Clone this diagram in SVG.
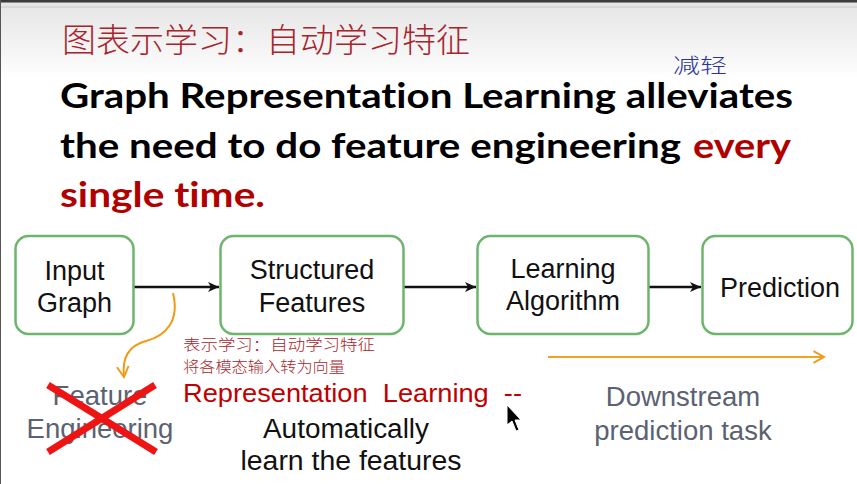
<svg xmlns="http://www.w3.org/2000/svg" width="857" height="484" viewBox="0 0 857 484">
<defs>
<linearGradient id="bg" x1="0" y1="0" x2="0" y2="1">
<stop offset="0" stop-color="#e4e4e4"/>
<stop offset="1" stop-color="#ffffff"/>
</linearGradient>
<marker id="oh" viewBox="0 0 12 12" refX="10" refY="6" markerWidth="14" markerHeight="14" orient="auto" markerUnits="userSpaceOnUse">
<path d="M1,1 L10,6 L1,11" fill="none" stroke="#f29a14" stroke-width="1.6" stroke-linejoin="miter"/>
</marker>
<marker id="ah2" viewBox="0 0 12 12" refX="11" refY="6" markerWidth="12" markerHeight="12" orient="auto" markerUnits="userSpaceOnUse">
<path d="M0,1 L11,6 L0,11 L3,6 z" fill="#111"/>
</marker>
</defs>
<style>
.title{font-family:Lato,"Open Sans",sans-serif;font-weight:bold;font-size:34px;fill:#000;font-variant-ligatures:none}
.red{fill:#b00000}
.box{fill:#fff;stroke:#6db56d;stroke-width:2.5}
.lbl{font-family:"Liberation Sans",Arial,sans-serif;font-size:27px;fill:#111;text-anchor:middle}
.gray{font-family:"Liberation Sans",Arial,sans-serif;font-size:27.5px;fill:#5b6272;text-anchor:middle}
.hand{font-family:"Noto Sans CJK SC",sans-serif;font-weight:300;fill:#a8242c}
.conn{stroke:#111;stroke-width:2.5;fill:none}
</style>
<rect x="0" y="0" width="857" height="484" fill="#fff"/>
<rect x="0" y="0" width="857" height="80" fill="url(#bg)"/>
<rect x="0" y="0" width="857" height="2.5" fill="#3a3a3a"/>
<line x1="0" y1="7" x2="857" y2="7" stroke="#c8c8c8" stroke-width="1"/>
<line x1="0.5" y1="0" x2="0.5" y2="484" stroke="#555" stroke-width="1"/>

<text class="hand" x="62" y="52" font-size="33" textLength="408" lengthAdjust="spacingAndGlyphs">图表示学习：自动学习特征</text>
<text class="hand" x="673" y="73" font-size="20" style="fill:#2a3499" textLength="54" lengthAdjust="spacingAndGlyphs">减轻</text>

<text class="title" x="60" y="108" textLength="733" lengthAdjust="spacingAndGlyphs">Graph Representation Learning alleviates</text>
<text class="title" x="60" y="158" textLength="621" lengthAdjust="spacingAndGlyphs">the need to do feature engineering</text>
<text class="title red" x="693" y="158" textLength="98" lengthAdjust="spacingAndGlyphs">every</text>
<text class="title red" x="60" y="207" textLength="205" lengthAdjust="spacingAndGlyphs">single time.</text>

<g id="connectors">
<line class="conn" x1="134" y1="287" x2="219" y2="287" marker-end="url(#ah2)"/>
<line class="conn" x1="403" y1="287" x2="476" y2="287" marker-end="url(#ah2)"/>
<line class="conn" x1="649" y1="287" x2="701" y2="287" marker-end="url(#ah2)"/>
<path d="M173,293 C180,322 165,336 146,341 C127,346 122,360 124,377" fill="none" stroke="#f29a14" stroke-width="2" marker-end="url(#oh)"/>
<line x1="548" y1="357" x2="824" y2="357" stroke="#f0a422" stroke-width="2" marker-end="url(#oh)"/>
</g>

<g id="input-graph">
<rect class="box" x="15.5" y="236" width="118" height="98" rx="13"/>
<text class="lbl" x="74.5" y="280">Input</text>
<text class="lbl" x="74.5" y="312">Graph</text>
</g>
<g id="structured-features">
<rect class="box" x="220.5" y="236" width="183" height="98" rx="13"/>
<text class="lbl" x="312" y="279">Structured</text>
<text class="lbl" x="312" y="312">Features</text>
</g>
<g id="learning-algorithm">
<rect class="box" x="477.5" y="236" width="171" height="98" rx="13"/>
<text class="lbl" x="563" y="278">Learning</text>
<text class="lbl" x="563" y="310">Algorithm</text>
</g>
<g id="prediction">
<rect class="box" x="702.5" y="236" width="150" height="98" rx="13"/>
<text class="lbl" x="780" y="297">Prediction</text>
</g>

<g id="feature-engineering">
<text class="gray" x="100" y="405">Feature</text>
<text class="gray" x="100" y="438">Engineering</text>
<line x1="48" y1="385" x2="156" y2="452" stroke="#ee1414" stroke-width="7"/>
<line x1="155" y1="385" x2="48" y2="452" stroke="#ee1414" stroke-width="7"/>
</g>

<g id="representation-learning">
<text class="hand" x="183" y="350" font-size="15" textLength="192" lengthAdjust="spacingAndGlyphs">表示学习：自动学习特征</text>
<text class="hand" x="183" y="372" font-size="15" textLength="162" lengthAdjust="spacingAndGlyphs">将各模态输入转为向量</text>
<text x="183" y="402" font-family="Liberation Sans, Arial, sans-serif" font-size="26" fill="#c00000" textLength="339" lengthAdjust="spacingAndGlyphs" xml:space="preserve">Representation  Learning  --</text>
<text class="lbl" x="346" y="438" textLength="166" lengthAdjust="spacingAndGlyphs">Automatically</text>
<text class="lbl" x="351" y="470" textLength="221" lengthAdjust="spacingAndGlyphs">learn the features</text>
</g>

<g id="downstream">
<text class="gray" x="683" y="406">Downstream</text>
<text class="gray" x="683" y="440">prediction task</text>
</g>

<path d="M507,405 L507,425 L512,421 L516,431 L519,430 L515,420 L521,420 Z" fill="#000" stroke="#fff" stroke-width="1"/>
</svg>
